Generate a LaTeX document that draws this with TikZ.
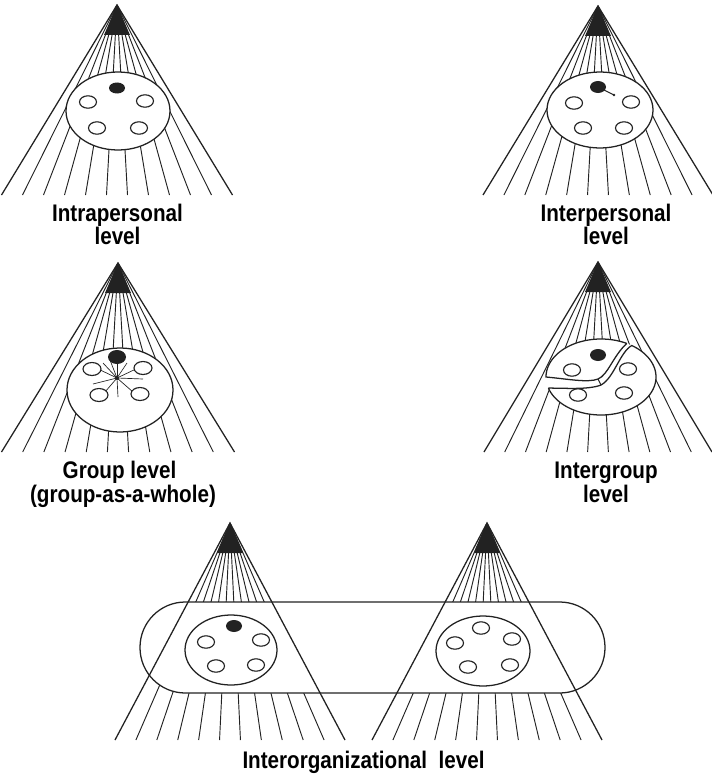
\documentclass[tikz,border=0pt]{standalone}
\usepackage{fontspec}
\setmainfont{Liberation Sans}[FakeStretch=0.86]
\definecolor{ink}{HTML}{222222}
\tikzset{
  coneline/.style={draw=ink, line width=0.95pt},
  fanline/.style={draw=ink, line width=0.7pt},
  rim/.style={draw=ink, line width=0.95pt, fill=white},
  hole/.style={draw=ink, line width=0.85pt, fill=white},
  blob/.style={fill=ink},
  lbl/.style={font=\bfseries\fontsize{18}{21}\selectfont, text=black, inner sep=0pt, anchor=base},
}
% fan of ten rays from the apex (#1,#2) to the base line y=#3, half width #4
\newcommand\fanrays[4]{%
  \foreach \k in {1,...,10} {\draw[fanline] (#1,#2) -- ({#1-#4+2*#4*\k/11},#3);}
  \fill[ink] (#1,#2) -- ({#1-13},{#2+30}) -- ({#1+13},{#2+30}) -- cycle;
}
% the two outer edges of a cone
\newcommand\coneedges[4]{%
  \draw[coneline] ({#1-#4},#3) -- (#1,#2) -- ({#1+#4},#3);
}
\begin{document}
\begin{tikzpicture}[x=0.75pt,y=-0.75pt]
\useasboundingbox (0,0) rectangle (712,774);
\fill[white] (0,0) rectangle (712,774);

% ---------- intrapersonal ----------
\fanrays{117}{5}{195}{115.5}
\draw[rim] (118,111) ellipse [x radius=52, y radius=39];
\coneedges{117}{5}{195}{115.5}
\fill[blob] (117,88) ellipse [x radius=8, y radius=5.5];
\foreach \p in {(88,102),(145,101),(97,128),(139,128)}
  \draw[hole] \p ellipse [x radius=8.5, y radius=6.2];
\node[lbl] (l1a) at (117.5,221) {Intrapersonal};
\node[lbl] (l1b) at (117.5,244) {level};

% ---------- interpersonal ----------
\fanrays{598}{6}{195}{115}
\draw[rim] (600,110) ellipse [x radius=53, y radius=38];
\coneedges{598}{6}{195}{115}
\fill[blob] (598,87) ellipse [x radius=8, y radius=6];
\draw[ink, line width=0.8pt] (604,90) -- (614,95);
\fill[ink] (614,95) circle [radius=1.3];
\foreach \p in {(574,103),(631,102),(583,128),(624,128)}
  \draw[hole] \p ellipse [x radius=8.5, y radius=6.2];
\node[lbl] (l2a) at (606,221) {Interpersonal};
\node[lbl] (l2b) at (606,244) {level};

% ---------- group level ----------
\fanrays{118}{263}{452}{116.5}
\draw[rim] (120,390) ellipse [x radius=53, y radius=42];
\coneedges{118}{263}{452}{116.5}
\coordinate (hub) at (117,378);
\foreach \q in {(96.7,368.3),(103,363),(110,360),(117,360),(127,363),(138,368),
                (143,379),(93,384),(118,397),(105,392),(133,392)}
  \draw[ink, line width=0.5pt] (hub) -- \q;
\fill[blob] (117,357) ellipse [x radius=9, y radius=7];
\fill[ink] (hub) circle [radius=2];
\foreach \p in {(92,369),(143,368),(99,395),(140,394)}
  \draw[hole] \p ellipse [x radius=9, y radius=6.5];
\node[lbl] (l3a) at (119.5,478) {Group level};
\node[lbl] (l3b) at (123,502) {(group-as-a-whole)};

% ---------- intergroup ----------
\fanrays{598}{262}{452}{114}
\fill[white] (601,377) ellipse [x radius=55, y radius=38];
% upper part of the split group
\draw[ink, line width=0.95pt, fill=white]
  plot[domain=-62:-180, samples=60] ({601+55*cos(\x)},{377+38*sin(\x)})
  .. controls (568,379) and (588,383) .. (598,379)
  .. controls (608,375) and (613,356) .. (626.8,343.4);
% lower part of the split group
\draw[ink, line width=0.95pt, fill=white]
  plot[domain=163:-56, samples=80] ({601+55*cos(\x)},{377+38*sin(\x)})
  .. controls (620,352) and (614,378) .. (601,385)
  .. controls (588,390) and (565,388) .. (548.4,388.1);
\draw[ink, line width=0.7pt] (598,379) -- (601,385);
\coneedges{598}{262}{452}{114}
\fill[blob] (598,355) ellipse [x radius=8, y radius=6];
\foreach \p in {(572,370),(628,369),(578,395),(624,393)}
  \draw[hole] \p ellipse [x radius=8.5, y radius=6.2];
\node[lbl] (l4a) at (606,478) {Intergroup};
\node[lbl] (l4b) at (606,502) {level};

% ---------- interorganizational ----------
\fanrays{230}{523}{740}{115}
\fanrays{487}{523}{740}{115}
\draw[rim, rounded corners=34pt] (140,602) rectangle (605,693);
\coneedges{230}{523}{740}{115}
\coneedges{487}{523}{740}{115}
\draw[rim] (231,650) ellipse [x radius=46, y radius=35];
\fill[blob] (234,626) ellipse [x radius=8, y radius=6];
\foreach \p in {(206,642),(261,640),(216,666),(256,665)}
  \draw[hole] \p ellipse [x radius=8.5, y radius=6.2];
\draw[rim] (483,651) ellipse [x radius=47, y radius=35];
\foreach \p in {(481,628),(512,639),(455,643),(468,667),(510,665)}
  \draw[hole] \p ellipse [x radius=8.5, y radius=6.2];
\node[lbl] (l5) at (363.5,768) {Interorganizational\ \ level};
\end{tikzpicture}
\end{document}
